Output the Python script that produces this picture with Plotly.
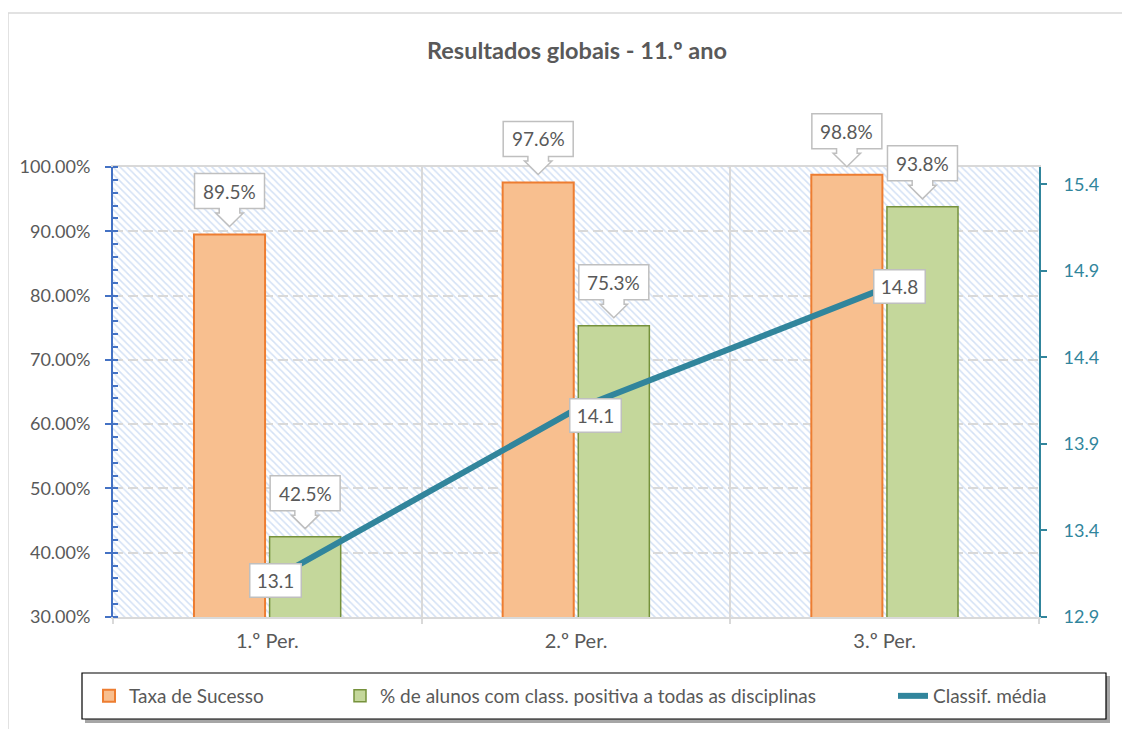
import plotly.graph_objects as go

# ---------------- data ----------------
categories = ["1.º Per.", "2.º Per.", "3.º Per."]
taxa_sucesso = [89.5, 97.6, 98.8]          # %
alunos_positiva = [42.5, 75.3, 93.8]       # %
classif_media = [13.1, 14.1, 14.8]

left_ticks = [30, 40, 50, 60, 70, 80, 90, 100]
right_ticks = [12.9, 13.4, 13.9, 14.4, 14.9, 15.4]

# ---------------- style ----------------
FONT = "Lato"
GREY = "#595959"
TEAL = "#31859C"
ORANGE_FILL = "#F8BF8F"
ORANGE_LINE = "#ED7D31"
GREEN_FILL = "#C4D79B"
GREEN_LINE = "#76923C"
CALLOUT_LINE = "#BFBFBF"

W, H = 1130, 729
OFF = 8                      # page body margin
ML, MR, MT, MB = 105, 99, 159, 120
PW, PH = W - ML - MR, H - MT - MB

X_RANGE = [-0.5, 2.5]
Y_RANGE = [0.3, 1.0]

def px_x(p):
    return (p - OFF - ML) / PW

def px_y(p):
    return (H - MB - (p - OFF)) / PH

def data_to_paper_x(x):
    return (x - X_RANGE[0]) / (X_RANGE[1] - X_RANGE[0])

def data_to_paper_y(y):
    return (y - Y_RANGE[0]) / (Y_RANGE[1] - Y_RANGE[0])

xpos = list(range(len(categories)))

fig = go.Figure()

# hatched plot-area background (separate subplot underneath)
fig.add_trace(go.Bar(
    x=[0.5], y=[1], width=[1], xaxis="x", yaxis="y",
    marker=dict(color="white", line=dict(width=0),
                pattern=dict(shape="\\", fgcolor="#A9C4EB", bgcolor="white",
                             size=5, solidity=0.3, fillmode="overlay")),
    showlegend=False, hoverinfo="skip"))

fig.add_trace(go.Bar(
    x=xpos, y=[v / 100 for v in taxa_sucesso], name="Taxa de Sucesso",
    xaxis="x2", yaxis="y2", legend="legend",
    marker=dict(color=ORANGE_FILL, line=dict(color=ORANGE_LINE, width=2))))
fig.add_trace(go.Bar(
    x=xpos, y=[v / 100 for v in alunos_positiva],
    name="% de alunos com class. positiva a todas as disciplinas",
    xaxis="x2", yaxis="y2", legend="legend2",
    marker=dict(color=GREEN_FILL, line=dict(color=GREEN_LINE, width=1.5))))
fig.add_trace(go.Scatter(
    x=xpos, y=classif_media, name="Classif. média", mode="lines",
    xaxis="x2", yaxis="y3", legend="legend3",
    line=dict(color=TEAL, width=6)))

# ------------- bar group geometry (for label anchoring) -------------
bargap = 0.51
bargroupgap = 0.06
slot = (1 - bargap) / 2
offsets = [-slot / 2, slot / 2]

annotations = []
shapes = []

callout_path = ("M -35,26 L -10.3,26 L -10.3,21.5 L -13.7,21.5 L 0,8 "
                "L 13.7,21.5 L 10.3,21.5 L 10.3,26 L 35,26 L 35,61 L -35,61 Z")

for series, off in ((taxa_sucesso, offsets[0]), (alunos_positiva, offsets[1])):
    for i, v in enumerate(series):
        xc = xpos[i] + off
        shapes.append(dict(
            type="path", xref="paper", yref="paper", xsizemode="pixel", ysizemode="pixel",
            xanchor=data_to_paper_x(xc), yanchor=data_to_paper_y(v / 100),
            path=callout_path,
            fillcolor="white", line=dict(color=CALLOUT_LINE, width=1.5), layer="above"))
        annotations.append(dict(
            x=xc, y=v / 100, xref="x2", yref="y2", text=f"{v:.1f}%",
            showarrow=False, yanchor="middle", yshift=43.5,
            font=dict(family=FONT, size=19, color=GREY)))

line_label_dx = [8, 19, 15]
line_label_dy = [2, -6, 2]
for i, v in enumerate(classif_media):
    annotations.append(dict(
        x=xpos[i], y=v, xref="x2", yref="y3", text=f"{v:.1f}",
        showarrow=False, xshift=line_label_dx[i], yshift=line_label_dy[i],
        bgcolor="white", bordercolor=CALLOUT_LINE, borderwidth=1.5,
        borderpad=4, width=42, height=24,
        font=dict(family=FONT, size=19, color=GREY)))

# chart outer border (light grey)
shapes.append(dict(type="rect", xref="paper", yref="paper",
                   x0=px_x(8), x1=px_x(1150), y0=px_y(13), y1=px_y(760),
                   line=dict(color="#D9D9D9", width=1.5), fillcolor="rgba(0,0,0,0)",
                   layer="below"))
# legend box with shadow
shapes.append(dict(type="rect", xref="paper", yref="paper",
                   x0=px_x(85), x1=px_x(1110), y0=px_y(676), y1=px_y(723),
                   line=dict(width=0), fillcolor="#A6A6A6", layer="below"))
shapes.append(dict(type="rect", xref="paper", yref="paper",
                   x0=px_x(82), x1=px_x(1106), y0=px_y(673), y1=px_y(719),
                   line=dict(color="black", width=1.2), fillcolor="white", layer="below"))

legend_common = dict(orientation="h", xanchor="left", yanchor="middle",
                     bgcolor="rgba(0,0,0,0)", borderwidth=0,
                     font=dict(family=FONT, size=19, color=GREY), itemwidth=30)

fig.update_layout(
    width=W, height=H,
    margin=dict(l=ML, r=MR, t=MT, b=MB),
    paper_bgcolor="white",
    plot_bgcolor="rgba(0,0,0,0)",
    font=dict(family=FONT, color=GREY),
    barmode="group", bargap=bargap, bargroupgap=bargroupgap,
    title=dict(text="<b>Resultados globais - 11.º ano</b>", x=(577 - OFF) / W, xref="container",
               xanchor="center", y=1 - (51 - OFF) / H, yanchor="middle",
               font=dict(family=FONT, size=23.5, color=GREY)),
    xaxis=dict(domain=[0, 1], range=[0, 1], visible=False, fixedrange=True),
    yaxis=dict(domain=[0, 1], range=[0, 1], visible=False, fixedrange=True),
    xaxis2=dict(domain=[0, 1], anchor="y2", range=X_RANGE,
                tickmode="array", tickvals=xpos, ticktext=categories, ticks="",
                showgrid=False, showline=True, linecolor="#D9D9D9", linewidth=1.5,
                mirror=True, zeroline=False, ticklabelstandoff=5,
                tickfont=dict(family=FONT, size=20, color=GREY),
                minor=dict(tickmode="array", tickvals=[-0.5, 0.5, 1.5, 2.5],
                           ticks="outside", ticklen=5, tickcolor="#D9D9D9", tickwidth=1.5,
                           showgrid=True, gridcolor="#D9D9D9", gridwidth=1.5)),
    yaxis2=dict(domain=[0, 1], anchor="x2", range=Y_RANGE,
                tickmode="array", tickvals=[t / 100 for t in left_ticks],
                ticktext=[f"{t:.2f}%" for t in left_ticks],
                ticks="outside", ticklen=6, tickcolor="#4472C4", tickwidth=1.5,
                showline=True, linecolor="#4472C4", linewidth=2,
                showgrid=True, gridcolor="#D9D9D9", gridwidth=1.5, griddash="10px,5px",
                zeroline=False, ticklabelstandoff=11,
                tickfont=dict(family=FONT, size=18, color=GREY),
                minor=dict(dtick=0.02, tick0=0.3, ticks="inside", ticklen=5,
                           tickcolor="#4472C4", tickwidth=1.5, showgrid=False)),
    yaxis3=dict(overlaying="y2", anchor="x2", side="right", range=[12.9, 15.5],
                tickmode="array", tickvals=right_ticks,
                ticktext=[f"{t:.1f}" for t in right_ticks],
                ticks="outside", ticklen=6, tickcolor=TEAL, tickwidth=1.5,
                showline=True, linecolor=TEAL, linewidth=2,
                showgrid=False, zeroline=False, ticklabelstandoff=13,
                tickfont=dict(family=FONT, size=18, color=TEAL)),
    legend=dict(x=px_x(89), y=px_y(696), **legend_common),
    legend2=dict(x=px_x(340), y=px_y(696), **legend_common),
    legend3=dict(x=px_x(893), y=px_y(696), **legend_common),
    annotations=annotations,
    shapes=shapes,
)

fig.write_html("out.html")
